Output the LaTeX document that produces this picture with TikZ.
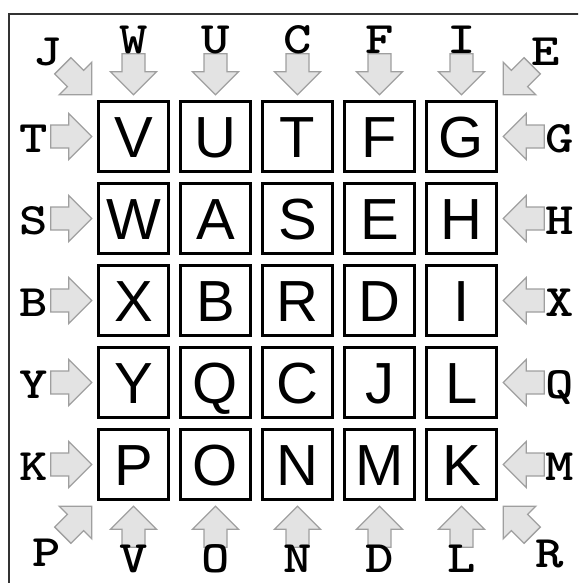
\documentclass[tikz,border=0pt]{standalone}
\usepackage{fontspec}
\setmainfont{Liberation Sans}
\newfontfamily\lblfont{lmmonolt10-bold.otf}[FakeStretch=1.2]
\tikzset{
  cell/.style={draw=black, line width=3.4pt, minimum size=70pt, inner sep=0pt,
    text height=42pt, text depth=0pt, font=\fontsize{58}{60}\selectfont},
  lbl/.style={inner sep=0pt, text height=27.5pt, text depth=0pt,
    font=\fontsize{45}{47}\selectfont\lblfont},
  barrowfill/.style={fill=gray!22, draw=gray!75, line width=1.3pt, line join=miter},
  barrow/.pic={\path[barrowfill] (0,0) -- (-23,23) -- (-23,11.5) -- (-41,11.5)
      -- (-41,-11.5) -- (-23,-11.5) -- (-23,-23) -- cycle;},
  framestyle/.style={line width=1.8pt, draw=black!80},
}
\begin{document}
\begin{tikzpicture}[x=1pt,y=-1pt]
\useasboundingbox (0,0) rectangle (578,583);
\clip (0,0) rectangle (578,583);
\draw[framestyle] (9,640) |- (640,14);
% grid
\foreach \letters [count=\r] in {{V,U,T,F,G},{W,A,S,E,H},{X,B,R,D,I},{Y,Q,C,J,L},{P,O,N,M,K}} {
  \foreach \l [count=\c] in \letters {
    \node[cell] (c\r\c) at ({133.5+82*(\c-1)}, {136.5+82*(\r-1)}) {\l};
  }
}
% straight arrows
\foreach \c in {1,...,5} {
  \pic[rotate=-90] at ([yshift=5pt]c1\c.north) {barrow};
  \pic[rotate=90] at ([yshift=-5pt]c5\c.south) {barrow};
  \pic[rotate=0] at ([xshift=-5pt]c\c1.west) {barrow};
  \pic[rotate=180] at ([xshift=5pt]c\c5.east) {barrow};
}
% diagonal arrows
\pic[rotate=-45] at ([xshift=-5pt,yshift=5pt]c11.north west) {barrow};
\pic[rotate=-135] at ([xshift=5pt,yshift=5pt]c15.north east) {barrow};
\pic[rotate=45] at ([xshift=-5pt,yshift=-5pt]c51.south west) {barrow};
\pic[rotate=135] at ([xshift=5pt,yshift=-5pt]c55.south east) {barrow};
% labels
\foreach \t [count=\c] in {W,U,C,F,I} {
  \node[lbl] (t\c) at ({133.5+82*(\c-1)}, 40) {\t};
}
\foreach \t [count=\c] in {V,O,N,D,L} {
  \node[lbl] (b\c) at ({133.5+82*(\c-1)}, 559) {\t};
}
\foreach \t [count=\r] in {T,S,B,Y,K} {
  \node[lbl] (l\r) at (34, {139+82*(\r-1)}) {\t};
}
\foreach \t [count=\r] in {G,H,X,Q,M} {
  \node[lbl] (r\r) at (560, {139+82*(\r-1)}) {\t};
}
\node[lbl] (cj) at (48,52) {J};
\node[lbl] (ce) at (546,52) {E};
\node[lbl] (cp) at (47,553) {P};
\node[lbl] (cr) at (550,554) {R};
\end{tikzpicture}
\end{document}
